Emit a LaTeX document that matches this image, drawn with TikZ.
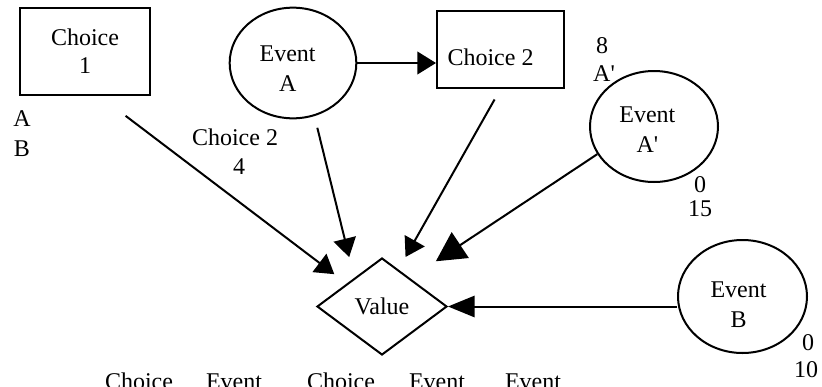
\documentclass[tikz,border=0pt]{standalone}
\usepackage{fontspec}
\setmainfont{Liberation Serif}
\usetikzlibrary{arrows.meta, positioning, shapes.geometric}
\newcommand\prm{\textquotesingle}
\tikzset{
  every picture/.style={font=\fontsize{18}{21}\selectfont, line width=1.5pt},
  box/.style={draw, rectangle, align=center, inner sep=0pt},
  event/.style={draw, ellipse, inner sep=0pt, minimum width=95pt, minimum height=83pt},
  intext/.style={inner sep=0pt, align=center, font=\fontsize{18}{22.5}\selectfont},
  valnode/.style={draw, diamond, inner sep=0pt, minimum width=97.5pt, minimum height=72.75pt},
  arrow/.style={-{Triangle[length=14pt, width=17pt]}},
  lbl/.style={inner sep=0pt},
}

\begin{document}
\begin{tikzpicture}[x=0.75pt, y=-0.75pt]
  \useasboundingbox (0,0) rectangle (822,386);
  % choices, events and the value node
  \node[box, minimum width=97.5pt, minimum height=65.25pt] (c1) at (85,51.5) {Choice\\1};
  \node[event, label={[intext, xshift=-4pt, yshift=-4.5pt]center:Event\\A}] (ea) at (293,63) {};
  \node[box, minimum width=95.25pt, minimum height=57.75pt,
        label={[lbl, xshift=-7.5pt, yshift=-5.5pt]center:Choice 2}] (c2) at (500.5,49.5) {};
  \node[event, minimum width=96pt, minimum height=83.25pt,
        label={[intext, xshift=-5pt, yshift=-2.5pt]center:Event\\A\prm}] (eap) at (654,126.5) {};
  \node[event, minimum width=96.75pt, minimum height=84.75pt,
        label={[intext, xshift=-3pt, yshift=-6pt]center:Event\\B}] (eb) at (742.5,296.5) {};
  \node[valnode] (val) at (382,306.5) {Value};
  % influences
  \draw[arrow] (ea.east) -- (c2.west |- ea.east);
  \draw[arrow, shorten <=24.6pt, shorten >=11.6pt] (c1.-72) -- (val.147);
  \draw[arrow, shorten <=9pt, shorten >=16pt] (ea.-68) -- (val.134);
  \draw[arrow, shorten <=9pt, shorten >=10.7pt] (c2.south) -- (val.66);
  \draw[-{Triangle[length=22pt, width=23pt]}, shorten >=23pt] (eap.206) -- (val.45);
  \draw[-{Triangle[length=20pt, width=16pt]}] (eb.west |- val.east) -- (val.east);
  % loose labels
  \node[lbl] (la) at (22,119) {A};
  \node[lbl] (lb) at (22,149) {B};
  \node[lbl] (lc2) at (235,137.5) {Choice 2};
  \node[lbl] (l4) at (239,166.5) {4};
  \node[lbl] (l8) at (602,45.5) {8};
  \node[lbl] (lap) at (604,74) {A\prm};
  \node[lbl] (l0a) at (700,184.5) {0};
  \node[lbl] (l15) at (700,209) {15};
  \node[lbl] (l0b) at (808,342.5) {0};
  \node[lbl] (l10) at (806,369.5) {10};
  \foreach \x/\t in {139/Choice, 234/Event, 341/Choice, 437/Event, 533/Event}
    \node[lbl, anchor=base] (bot\x) at (\x,389) {\t};
\end{tikzpicture}
\end{document}
